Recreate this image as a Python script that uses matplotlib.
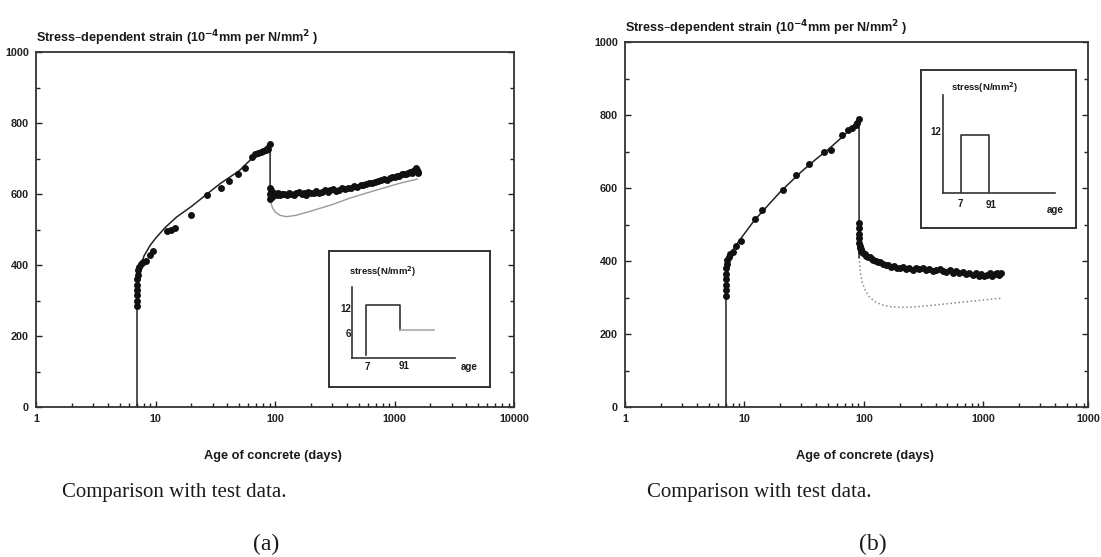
import matplotlib
matplotlib.use('Agg')
import matplotlib.pyplot as plt

# ---- panel (a): test data and model ----
a_test_age = [7.0, 7.0, 7.0, 7.0, 7.0, 7.0, 7.1, 7.2, 7.3, 7.5, 7.8, 8.4, 9.0, 9.6,
              12.6, 13.5, 14.5, 20, 27, 35, 41, 49, 56, 64, 68, 72, 76, 80, 84, 88, 91,
              91, 91, 91, 92, 93, 94, 96, 98, 100, 103, 106, 110, 114, 120, 125, 130,
              137, 143, 150, 160, 168, 175, 183, 190, 200, 210, 222, 235, 248, 260,
              275, 290, 307, 325, 345, 365, 388, 410, 435, 460, 490, 520, 550, 580,
              615, 650, 690, 730, 775, 820, 865, 910, 955, 1000, 1050, 1100, 1150,
              1200, 1250, 1300, 1350, 1400, 1440, 1480, 1510, 1540, 1560, 1580]
a_test_strain = [285, 300, 315, 330, 345, 360, 372, 385, 395, 402, 408, 412, 428, 440,
                 495, 500, 505, 540, 598, 618, 637, 655, 672, 705, 712, 715, 718, 721, 723, 728, 742,
                 618, 600, 585, 595, 610, 592, 598, 603, 600, 597, 603, 598, 601, 600, 596, 604,
                 600, 597, 603, 605, 600, 602, 598, 606, 603, 604, 608, 603, 606, 610,
                 607, 610, 614, 609, 612, 616, 614, 618, 616, 622, 620, 626, 624, 628,
                 632, 630, 635, 637, 640, 642, 640, 645, 647, 648, 652, 650, 655,
                 655, 657, 658, 662, 660, 665, 668, 672, 668, 662, 660]

a_model_age = [7, 7, 7.2, 7.5, 8, 9, 10, 12, 15, 20, 27, 35, 50, 64, 80, 91, 91]
a_model_strain = [0, 290, 350, 395, 425, 455, 475, 505, 535, 565, 600, 630, 665, 700, 725, 745, 585]
a_unload_age = [91, 95, 100, 110, 125, 150, 200, 300, 420, 600, 830, 1100, 1550]
a_unload_strain = [585, 562, 550, 540, 536, 540, 552, 570, 588, 604, 618, 630, 642]

# ---- panel (b): test data and model ----
b_test_age = [7.0, 7.0, 7.0, 7.0, 7.0, 7.0, 7.1, 7.2, 7.4, 7.6, 8.0, 8.5, 9.4,
              12.3, 14.0, 21, 27, 35, 46, 53, 65, 74, 80, 85, 88, 91,
              91, 91, 91, 91, 91, 92, 93, 94, 95, 97, 99, 102, 105, 108, 112, 116,
              120, 125, 131, 137, 144, 152, 160, 170, 180, 190, 200, 212, 225, 240,
              255, 270, 290, 310, 330, 350, 375, 400, 430, 460, 490, 520, 555, 590,
              630, 670, 715, 760, 810, 860, 910, 960, 1010, 1070, 1130, 1190, 1250,
              1310, 1360, 1400]
b_test_strain = [305, 320, 335, 350, 365, 380, 392, 402, 410, 418, 425, 440, 455,
                 515, 540, 595, 635, 665, 698, 705, 745, 758, 765, 772, 778, 790,
                 505, 490, 475, 462, 450, 442, 436, 432, 428, 425, 422, 418, 415, 412, 410, 406,
                 404, 401, 398, 396, 392, 390, 388, 384, 386, 382, 380, 383, 378, 381,
                 376, 380, 377, 382, 375, 378, 373, 376, 379, 372, 370, 374, 368, 372,
                 366, 370, 364, 368, 362, 366, 360, 364, 358, 362, 366, 360, 364,
                 368, 362, 368]

b_model_age = [7, 7, 7.2, 7.5, 8, 9, 10, 12, 15, 20, 30, 40, 50, 60, 70, 80, 91, 91]
b_model_strain = [0, 310, 365, 400, 430, 455, 475, 510, 545, 590, 645, 680, 705, 728, 748, 768, 790, 410]
b_unload_age = [91, 93, 97, 103, 112, 125, 140, 165, 200, 260, 360, 500, 700, 1000, 1400]
b_unload_strain = [410, 370, 340, 318, 300, 288, 280, 275, 273, 274, 278, 283, 288, 293, 298]

# ---- stress histories for the insets ----
a_stress_age = [7, 7, 91, 91]
a_stress_val = [0, 12, 12, 6]
a_after_age = [91, 1180]
a_after_val = [6, 6]
b_stress_age = [7, 7, 91, 91]
b_stress_val = [0, 12, 12, 0]

y_ticks = [0, 200, 400, 600, 800, 1000]
a_xticks = [1, 10, 100, 1000, 10000]
a_xlabels = ['1', '10', '100', '1000', '10000']
b_xticks = [1, 10, 100, 1000, 7500]
b_xlabels = ['1', '10', '100', '1000', '1000']

W, H = 1101, 557
sans = ['Liberation Sans', 'DejaVu Sans']
serif = ['Liberation Serif', 'DejaVu Serif']
plt.rcParams['font.family'] = sans
plt.rcParams['font.weight'] = 'bold'
plt.rcParams['mathtext.default'] = 'bf'
TXT = '#1a1a1a'


def fr(x0, y0, x1, y1):
    # pixel box -> figure fraction rect
    return [x0 / W, 1 - y1 / H, (x1 - x0) / W, (y1 - y0) / H]


def main_axes(fig, box, xticks, xlabels, xmax):
    ax = fig.add_axes(fr(*box))
    ax.set_xscale('log')
    ax.set_xlim(1, xmax)
    ax.set_ylim(0, 1000)
    ax.set_xticks(xticks)
    ax.set_xticklabels(xlabels)
    ax.set_yticks(y_ticks)
    ax.set_yticks(range(100, 1000, 200), minor=True)
    ax.tick_params(which='both', direction='in', right=True, top=False,
                   labelsize=7.8, width=1.0, colors='#222222')
    ax.tick_params(which='major', length=4, pad=5)
    ax.tick_params(which='minor', length=3)
    for s in ax.spines.values():
        s.set_linewidth(1.3)
        s.set_color('#333333')
    return ax


def inset(fig, frame_box, inner_box, xlim, ylim):
    frame = fig.add_axes(fr(*frame_box))
    frame.set_xticks([])
    frame.set_yticks([])
    for s in frame.spines.values():
        s.set_linewidth(1.4)
        s.set_color('#333333')
    inner = fig.add_axes(fr(*inner_box))
    inner.set_xscale('log')
    inner.set_xlim(*xlim)
    inner.set_ylim(*ylim)
    inner.set_xticks([])
    inner.set_yticks([])
    inner.minorticks_off()
    inner.patch.set_alpha(0)
    inner.spines['top'].set_visible(False)
    inner.spines['right'].set_visible(False)
    for s in ['left', 'bottom']:
        inner.spines[s].set_linewidth(1.2)
        inner.spines[s].set_color('#333333')
    return inner


fig = plt.figure(figsize=(11.01, 5.57), dpi=100)
title = 'Stress\u2013dependent strain (10$^{-4}$mm per N/mm$^{2}$ )'

# panel (a)
ax1 = main_axes(fig, (36, 52, 514, 407), a_xticks, a_xlabels, 10000)
ax1.plot(a_unload_age, a_unload_strain, color='#9a9a9a', lw=1.0)
ax1.plot(a_model_age, a_model_strain, color='#222222', lw=1.1)
ax1.plot(a_test_age, a_test_strain, 'o', color='#111111', ms=5, mec='none')
fig.text(36 / W, 1 - 38 / H, title, fontsize=9.1, va='center', ha='left', color=TXT)
fig.text(273 / W, 1 - 456 / H, 'Age of concrete (days)', fontsize=9.2, ha='center',
         va='center', color=TXT)
fig.text(62 / W, 1 - 493 / H, 'Comparison with test data.', family=serif, fontsize=15,
         weight='normal', ha='left', va='center', color=TXT)
fig.text(266 / W, 1 - 544 / H, '(a)', family=serif, fontsize=17, weight='normal',
         ha='center', va='center', color=TXT)

in1 = inset(fig, (329, 251, 490, 387), (352, 287, 455, 358), (2.43, 5780), (-0.7, 16.3))
in1.plot(a_stress_age, a_stress_val, color='#333333', lw=1.2)
in1.plot(a_after_age, a_after_val, color='#aaaaaa', lw=1.2)
fig.text(383 / W, 1 - 272 / H, 'stress(N/mm$^{2}$)', fontsize=6.8, ha='center', va='center',
         color=TXT)
fig.text(346 / W, 1 - 309 / H, '12', fontsize=7, ha='center', va='center', color=TXT)
fig.text(348 / W, 1 - 334 / H, '6', fontsize=7, ha='center', va='center', color=TXT)
fig.text(367 / W, 1 - 367 / H, '7', fontsize=7, ha='center', va='center', color=TXT)
fig.text(404 / W, 1 - 366 / H, '91', fontsize=7, ha='center', va='center', color=TXT)
fig.text(469 / W, 1 - 367 / H, 'age', fontsize=7, ha='center', va='center', color=TXT)

# panel (b)
ax2 = main_axes(fig, (625, 42, 1088, 407), b_xticks, b_xlabels, 7500)
ax2.plot(b_unload_age, b_unload_strain, color='#8a8a8a', lw=1.1, ls=':')
ax2.plot(b_model_age, b_model_strain, color='#222222', lw=1.1)
ax2.plot(b_test_age, b_test_strain, 'o', color='#111111', ms=5, mec='none')
fig.text(625 / W, 1 - 28 / H, title, fontsize=9.1, va='center', ha='left', color=TXT)
fig.text(865 / W, 1 - 456 / H, 'Age of concrete (days)', fontsize=9.2, ha='center',
         va='center', color=TXT)
fig.text(647 / W, 1 - 493 / H, 'Comparison with test data.', family=serif, fontsize=15,
         weight='normal', ha='left', va='center', color=TXT)
fig.text(873 / W, 1 - 544 / H, '(b)', family=serif, fontsize=17, weight='normal',
         ha='center', va='center', color=TXT)

in2 = inset(fig, (921, 70, 1076, 228), (943, 95, 1055, 193), (1.34, 38400), (0, 20.3))
in2.plot(b_stress_age, b_stress_val, color='#333333', lw=1.2)
fig.text(985 / W, 1 - 88 / H, 'stress(N/mm$^{2}$)', fontsize=6.8, ha='center', va='center',
         color=TXT)
fig.text(936 / W, 1 - 132 / H, '12', fontsize=7, ha='center', va='center', color=TXT)
fig.text(960 / W, 1 - 204 / H, '7', fontsize=7, ha='center', va='center', color=TXT)
fig.text(991 / W, 1 - 205 / H, '91', fontsize=7, ha='center', va='center', color=TXT)
fig.text(1055 / W, 1 - 210 / H, 'age', fontsize=7, ha='center', va='center', color=TXT)

fig.savefig('out.png', dpi=100)
